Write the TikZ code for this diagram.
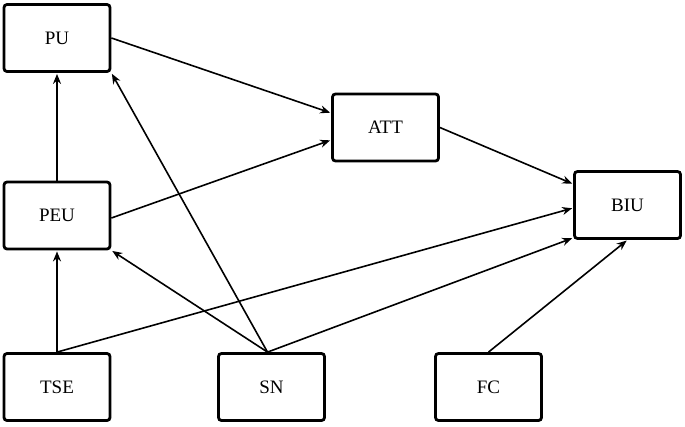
\documentclass[tikz,border=0pt]{standalone}
\usepackage{fontspec}
\setmainfont{Liberation Serif}
\usetikzlibrary{arrows.meta}
\begin{document}
\begin{tikzpicture}[x=1pt,y=-1pt,
  box/.style={draw,line width=2.8pt,rounded corners=3pt,minimum width=106pt,minimum height=67pt,inner sep=0pt,font=\fontsize{19}{21}\selectfont,fill=white},
  arr/.style={-{Stealth[length=10pt,width=8pt]},line width=1.6pt,shorten >=1pt}]
\useasboundingbox (0,0) rectangle (685,426);
\node[box] (PU) at (57,38) {PU};
\node[box] (PEU) at (57,215.5) {PEU};
\node[box] (TSE) at (57,387) {TSE};
\node[box] (SN) at (271.5,387) {SN};
\node[box] (FC) at (488.5,387) {FC};
\node[box] (ATT) at (385.5,127.5) {ATT};
\node[box] (BIU) at (627.5,205) {BIU};
\draw[arr] (PU.east) -- ([yshift=14.5pt]ATT.west);
\draw[arr] ([yshift=-2.5pt]PEU.east) -- ([yshift=-12.5pt]ATT.west);
\draw[arr] (ATT.east) -- ([yshift=21pt]BIU.west);
\draw[arr] (TSE.north) -- ([yshift=-3pt]BIU.west);
\draw[arr] ([xshift=-4pt]SN.north) -- ([yshift=2pt]BIU.south west);
\draw[arr] (FC.north) -- (BIU.south);
\draw[arr] ([xshift=-4pt]SN.north) -- (PU.south east);
\draw[arr] ([xshift=-4pt]SN.north) -- (PEU.south east);
\draw[arr] (PEU.north) -- (PU.south);
\draw[arr] (TSE.north) -- (PEU.south);
\end{tikzpicture}
\end{document}
